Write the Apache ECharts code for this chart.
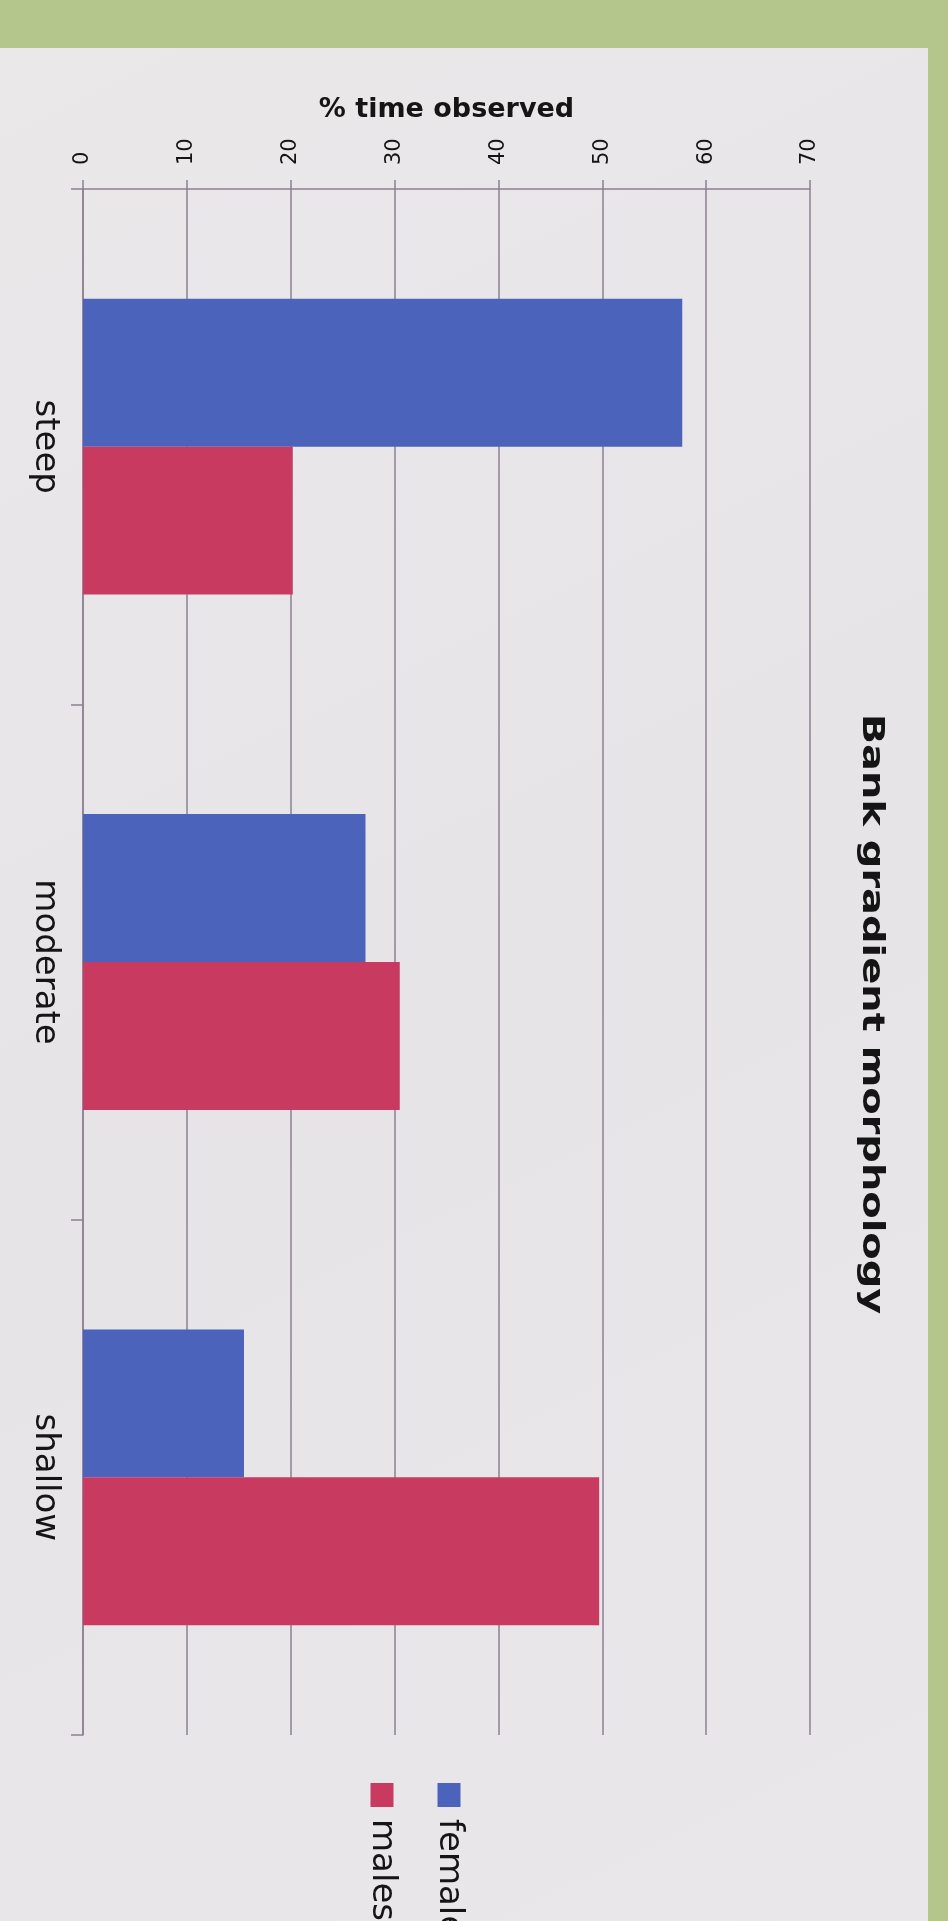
<!DOCTYPE html>
<html><head><meta charset="utf-8">
<script src="https://cdn.jsdelivr.net/npm/echarts@6/dist/echarts.min.js"></script>
<style>html,body{margin:0;padding:0;background:#b4c68c;} #c{width:948px;height:1921px;}</style>
</head><body><div id="c"></div>
<script>
// ---- data ----
const categories = ['steep', 'moderate', 'shallow'];
const females = [57.7, 27.2, 15.5];
const males = [20.2, 30.5, 49.7];
const seriesNames = ['females', 'males'];
const valueMin = 0, valueMax = 70, valueStep = 10;
const chartTitle = 'Bank gradient morphology';
const valueAxisTitle = '% time observed';

// ---- style ----
const colors = ['#4c63bb', '#c93a61'];
const lineCol = '#8d8093';
const textCol = '#151515';
const font = 'DejaVu Sans';

const chart = echarts.init(document.getElementById('c'), null, {renderer: 'canvas'});

const legendGraphics = [];
const legendX = [449, 382];
seriesNames.forEach((n, i) => {
  legendGraphics.push({type: 'rect', silent: true, z: 5,
    shape: {x: legendX[i] - 11.5, y: 1783, width: 23, height: 24},
    style: {fill: colors[i]}});
  legendGraphics.push({type: 'text', silent: true, z: 5, x: legendX[i], y: 1819, rotation: -Math.PI / 2,
    style: {text: n, fontSize: 34, fontFamily: font, fill: textCol, align: 'left', verticalAlign: 'middle'}});
});

chart.setOption({
  backgroundColor: '#b4c68c',
  animation: false,
  grid: {left: 83, right: 138, top: 189, bottom: 186, containLabel: false},
  xAxis: {
    type: 'value', position: 'top', min: valueMin, max: valueMax, interval: valueStep,
    name: valueAxisTitle, nameLocation: 'middle', nameGap: 66,
    nameTextStyle: {fontFamily: font, fontWeight: 'bold', fontSize: 27, color: textCol},
    axisLine: {show: true, lineStyle: {color: lineCol, width: 1.5}},
    axisTick: {show: true, length: 9, lineStyle: {color: lineCol, width: 1.5}},
    splitLine: {show: true, lineStyle: {color: lineCol, width: 1.5}},
    axisLabel: {rotate: -90, margin: 24, fontSize: 21, fontFamily: font, color: textCol}
  },
  yAxis: {
    type: 'category', data: categories, inverse: true,
    axisLine: {show: true, lineStyle: {color: lineCol, width: 1.5}},
    axisTick: {show: true, length: 12, lineStyle: {color: lineCol, width: 1.5}},
    splitLine: {show: false},
    axisLabel: {rotate: -90, margin: 21, fontSize: 34, fontFamily: font, color: textCol}
  },
  series: [
    {type: 'bar', name: seriesNames[0], data: females, barGap: '0%', barCategoryGap: '42.6%',
     itemStyle: {color: colors[0]}},
    {type: 'bar', name: seriesNames[1], data: males, barGap: '0%', barCategoryGap: '42.6%',
     itemStyle: {color: colors[1]}}
  ],
  graphic: [
    {type: 'rect', silent: true, z: -100, shape: {x: 0, y: 48, width: 928, height: 1873},
     style: {fill: {type: 'linear', x: 0, y: 0, x2: 1, y2: 1, colorStops: [
       {offset: 0, color: '#ebe8ea'}, {offset: 0.5, color: '#e7e4e8'}, {offset: 1, color: '#e9e7e9'}]}}},
    {type: 'text', silent: true, z: 5, x: 871, y: 1014, rotation: -Math.PI / 2, scaleX: 1.33,
     style: {text: chartTitle, fontSize: 30, fontWeight: 'bold', fontFamily: font, fill: textCol,
             align: 'center', verticalAlign: 'middle'}}
  ].concat(legendGraphics)
});
</script></body></html>
